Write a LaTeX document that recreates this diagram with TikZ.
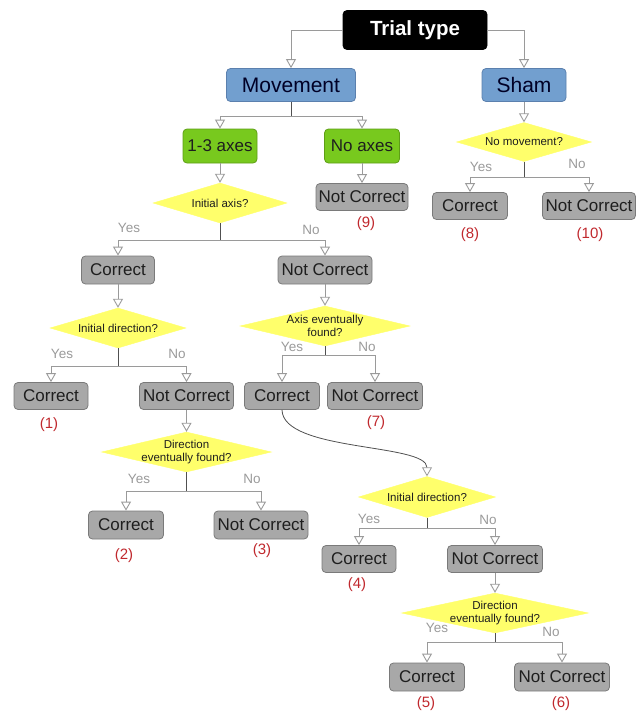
\documentclass[tikz,border=0pt]{standalone}
\usepackage{fontspec}
\setmainfont{Liberation Sans}
\usetikzlibrary{arrows.meta,shapes.geometric}
\definecolor{bluefill}{HTML}{729FCF}
\definecolor{bluedraw}{HTML}{5B80AE}
\definecolor{greenfill}{HTML}{78C91E}
\definecolor{greendraw}{HTML}{5E9E16}
\definecolor{grayfill}{HTML}{A8A8A8}
\definecolor{graydraw}{HTML}{7A7A7A}
\definecolor{yellowfill}{HTML}{FFFF6B}
\definecolor{linegray}{HTML}{9A9A9A}
\definecolor{stemgray}{HTML}{505050}
\definecolor{numred}{HTML}{C0282D}
\definecolor{boxtext}{HTML}{1E1E1E}
\begin{document}
\begin{tikzpicture}[x=1pt,y=-1pt,
  basebox/.style={rounded corners=4pt, line width=0.8pt, inner sep=0pt, text=boxtext},
  ttbox/.style={basebox, draw=black, fill=black, text=white, font=\fontsize{20.5}{22}\selectfont\bfseries},
  bluebox/.style={basebox, draw=bluedraw, fill=bluefill, text=black!85!blue, font=\fontsize{21}{23}\selectfont, minimum height=33pt},
  greenbox/.style={basebox, draw=greendraw, fill=greenfill, font=\fontsize{17}{19}\selectfont, minimum height=34pt},
  graybox/.style={basebox, draw=graydraw, fill=grayfill, font=\fontsize{17}{19}\selectfont, minimum height=27pt},
  dia/.style={diamond, draw=yellowfill, fill=yellowfill, inner sep=0pt, minimum height=40pt},
  dtext/.style={font=\fontsize{11.5}{12.5}\selectfont, text=boxtext, align=center},
  yn/.style={font=\fontsize{13.5}{15}\selectfont, text=linegray},
  num/.style={font=\fontsize{15}{17}\selectfont, text=numred},
  conn/.style={draw=linegray, line width=0.9pt, -{Triangle[open,length=9pt,width=10pt]}},
  stem/.style={draw=stemgray, line width=0.9pt},
  curvy/.style={draw=stemgray, line width=0.8pt, -{Triangle[open,length=9pt,width=10pt,color=linegray]}}
]
\useasboundingbox (0,0) rectangle (643,715);

% top levels
\node[ttbox, minimum width=144pt, minimum height=39pt] (tt) at (415,30) {Trial type};
\node[bluebox, minimum width=129pt] (mov) at (291,85) {Movement};
\node[bluebox, minimum width=84pt] (sham) at (524,85) {Sham};
\node[greenbox, minimum width=74pt] (ax) at (220,146) {1-3 axes};
\node[greenbox, minimum width=75pt] (nax) at (362,146) {No axes};
\node[graybox, minimum width=92pt] (nc9) at (362,197) {Not Correct};
\node[num] (r9) at (366,224) {(9)};

\draw[conn] (tt.west) -| (mov.north);
\draw[conn] (tt.east) -| (sham.north);
\coordinate (sm) at (291,116);
\draw[stem] (mov.south) -- (sm);
\draw[conn] (sm) -| (ax.north);
\draw[conn] (sm) -| (nax.north);
\draw[conn] (nax.south) -- (nc9.north);

% Initial axis
\node[dia, minimum width=134pt, label={[dtext]center:Initial axis?}] (d1) at (220,203) {};
\draw[conn] (ax.south) -- (d1.north);
\coordinate (s1) at (220,240);
\draw[stem] (d1.south) -- (s1);
\node[graybox, minimum width=73pt, minimum height=28pt] (c1) at (118,270) {Correct};
\node[graybox, minimum width=94pt, minimum height=28pt] (n1) at (325,270) {Not Correct};
\draw[conn] (s1) -| (c1.north);
\draw[conn] (s1) -| (n1.north);
\node[yn] (y1) at (129,228) {Yes};
\node[yn] (o1) at (311,230) {No};

% Initial direction (left)
\node[dia, minimum width=136pt, label={[dtext]center:Initial direction?}] (d2) at (118,328) {};
\draw[conn] (c1.south) -- (d2.north);
\coordinate (s2) at (118,366);
\draw[stem] (d2.south) -- (s2);
\node[graybox, minimum width=74pt] (c2) at (51,396) {Correct};
\node[graybox, minimum width=94pt] (n2) at (186.5,396) {Not Correct};
\draw[conn] (s2) -| (c2.north);
\draw[conn] (s2) -| (n2.north);
\node[yn] (y2) at (62,354) {Yes};
\node[yn] (o2) at (177,354) {No};
\node[num] (r1) at (49,425) {(1)};

% Direction eventually found (left)
\node[dia, minimum width=170pt, label={[dtext]center:{Direction\\eventually found?}}] (d3) at (186.5,452) {};
\draw[conn] (n2.south) -- (d3.north);
\coordinate (s3) at (186.5,491);
\draw[stem] (d3.south) -- (s3);
\node[graybox, minimum width=75pt, minimum height=28pt] (c3) at (126,525) {Correct};
\node[graybox, minimum width=94pt, minimum height=28pt] (n3) at (261,525) {Not Correct};
\draw[conn] (s3) -| (c3.north);
\draw[conn] (s3) -| (n3.north);
\node[yn] (y3) at (139,479) {Yes};
\node[yn] (o3) at (252,479) {No};
\node[num] (r2) at (124,556) {(2)};
\node[num] (r3) at (262,551) {(3)};

% Axis eventually found
\node[dia, minimum width=170pt, label={[dtext]center:{Axis eventually\\found?}}] (d4) at (325,326) {};
\draw[conn] (n1.south) -- (d4.north);
\coordinate (s4) at (325,355);
\draw[stem] (d4.south) -- (s4);
\node[graybox, minimum width=75pt] (c4) at (282,396) {Correct};
\node[graybox, minimum width=95pt] (n4) at (375,396) {Not Correct};
\draw[conn] (s4) -| (c4.north);
\draw[conn] (s4) -| (n4.north);
\node[yn] (y4) at (292,347) {Yes};
\node[yn] (o4) at (367,347) {No};
\node[num] (r7) at (376,423) {(7)};

% Initial direction (right)
\node[dia, minimum width=137pt, minimum height=41pt, label={[dtext]center:Initial direction?}] (d5) at (427,497) {};
\draw[curvy] (c4.south) .. controls (283,452) and (427,443) .. (d5.north);
\coordinate (s5) at (427,528);
\draw[stem] (d5.south) -- (s5);
\node[graybox, minimum width=74pt] (c5) at (359,559) {Correct};
\node[graybox, minimum width=95pt] (n5) at (495,559) {Not Correct};
\draw[conn] (s5) -| (c5.north);
\draw[conn] (s5) -| (n5.north);
\node[yn] (y5) at (369,519) {Yes};
\node[yn] (o5) at (488,520) {No};
\node[num] (r4) at (357,585) {(4)};

% Direction eventually found (right)
\node[dia, minimum width=187pt, label={[dtext]center:{Direction\\eventually found?}}] (d6) at (495,613) {};
\draw[conn] (n5.south) -- (d6.north);
\coordinate (s6) at (495,642);
\draw[stem] (d6.south) -- (s6);
\node[graybox, minimum width=75pt, minimum height=28pt] (c6) at (427,677) {Correct};
\node[graybox, minimum width=95pt, minimum height=28pt] (n6) at (562,677) {Not Correct};
\draw[conn] (s6) -| (c6.north);
\draw[conn] (s6) -| (n6.north);
\node[yn] (y6) at (437,628) {Yes};
\node[yn] (o6) at (551,632) {No};
\node[num] (r5) at (426,704) {(5)};
\node[num] (r6) at (561,704) {(6)};

% Sham branch
\node[dia, minimum width=135pt, minimum height=39pt, label={[dtext]center:No movement?}] (d7) at (524,142) {};
\draw[conn] (sham.south) -- (d7.north);
\coordinate (s7) at (524,177);
\draw[stem] (d7.south) -- (s7);
\node[graybox, minimum width=75pt] (c8) at (470,206) {Correct};
\node[graybox, minimum width=93pt] (n10) at (589,206) {Not Correct};
\draw[conn] (s7) -| (c8.north);
\draw[conn] (s7) -| (n10.north);
\node[yn] (y7) at (481,167) {Yes};
\node[yn] (o7) at (577,164) {No};
\node[num] (r8) at (470,235) {(8)};
\node[num] (r10) at (590,235) {(10)};
\end{tikzpicture}
\end{document}
